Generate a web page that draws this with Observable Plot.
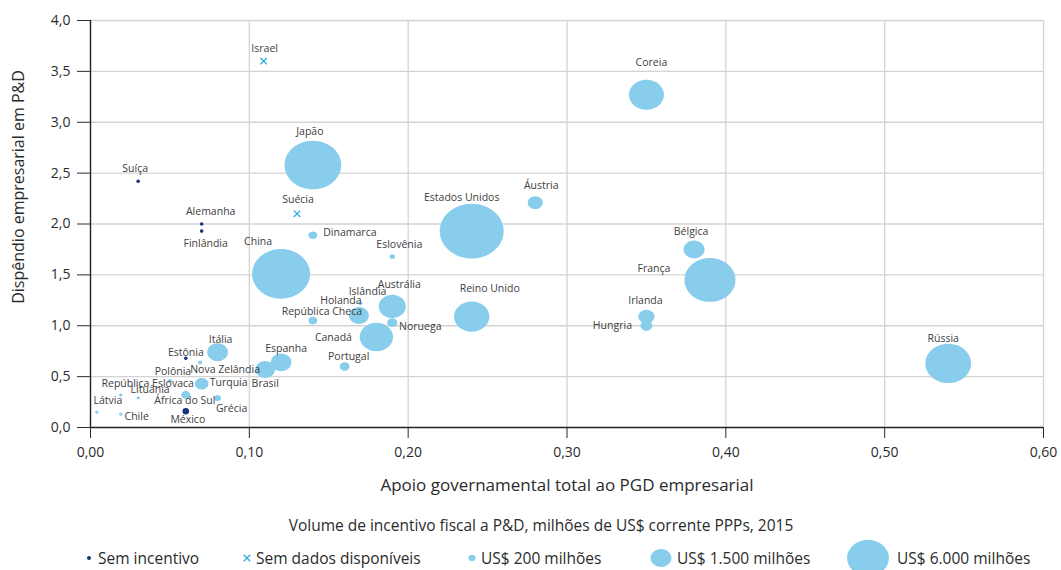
<!DOCTYPE html>
<html>
<head>
<meta charset="utf-8">
<script src="https://cdn.jsdelivr.net/npm/d3@7"></script>
<script src="https://cdn.jsdelivr.net/npm/@observablehq/plot@0.6"></script>
<style>
  body { margin: 0; background: #fff; font-family: "Open Sans", sans-serif; }
  #chart { width: 1061px; height: 570px; overflow: hidden; }
  #chart svg { display: block; }
</style>
</head>
<body>
<div id="chart"></div>
<script>
// ---------------- DATA ----------------
const countries = ["Israel","Coreia","Japão","Suíça","Áustria","Estados Unidos","Alemanha","Suécia","Finlândia","Dinamarca",
  "Bélgica","China","Eslovênia","França","Reino Unido","Austrália","Islândia","Holanda","República Checa","Irlanda",
  "Noruega","Hungria","Canadá","Rússia","Itália","Espanha","Estônia","Portugal","Nova Zelândia","Polônia",
  "Brasil","República Eslovaca","Turquia","Lituânia","África do Sul","Látvia","Grécia","Chile","México"];
// Apoio governamental total ao PGD empresarial (x)
const apoio = [0.109,0.350,0.140,0.030,0.280,0.240,0.070,0.130,0.070,0.140,
  0.380,0.120,0.190,0.390,0.240,0.190,0.170,0.169,0.140,0.350,
  0.190,0.350,0.180,0.540,0.080,0.120,0.060,0.160,0.069,0.050,
  0.110,0.019,0.070,0.030,0.060,0.004,0.080,0.019,0.060];
// Dispêndio empresarial em P&D (y)
const dispendio = [3.60,3.27,2.58,2.42,2.21,1.93,2.00,2.10,1.93,1.89,
  1.75,1.51,1.68,1.45,1.09,1.19,1.22,1.10,1.05,1.09,
  1.03,1.00,0.89,0.63,0.74,0.64,0.68,0.60,0.64,0.46,
  0.57,0.32,0.43,0.29,0.32,0.15,0.29,0.13,0.16];
// Volume de incentivo fiscal a P&D, milhões de US$ PPP (null = sem incentivo / sem dados)
const incentivo = [null,4200,11000,null,780,14000,null,null,null,270,
  1500,11500,110,8900,4300,2500,60,1350,270,890,
  350,480,3800,7150,1470,1430,null,330,60,60,
  1320,40,630,40,280,40,175,40,null];
// situação: "bolha" = com incentivo, "sem" = sem incentivo, "nd" = sem dados disponíveis
const situacao = ["nd","bolha","bolha","sem","bolha","bolha","sem","nd","sem","bolha",
  "bolha","bolha","bolha","bolha","bolha","bolha","bolha","bolha","bolha","bolha",
  "bolha","bolha","bolha","bolha","bolha","bolha","sem","bolha","bolha","bolha",
  "bolha","bolha","bolha","bolha","bolha","bolha","bolha","bolha","sem"];
const xTicks = [0, 0.1, 0.2, 0.3, 0.4, 0.5, 0.6];
const yTicks = [0, 0.5, 1, 1.5, 2, 2.5, 3, 3.5, 4];
const legendSizes = [200, 1500, 6000];
const legendLabels = ["Sem incentivo", "Sem dados disponíveis", "US$ 200 milhões", "US$ 1.500 milhões", "US$ 6.000 milhões"];

// label placement (pixel nudges relative to the point) — layout only
const labelNudge = {
  "Israel":[1,-13],"Coreia":[5,-32],"Japão":[-3,-33],"Suíça":[-3,-13],"Áustria":[6,-17],
  "Estados Unidos":[-10,-33],"Alemanha":[9,-12],"Suécia":[1,-14],"Finlândia":[4,13],"Dinamarca":[37,-3],
  "Bélgica":[-3,-18],"China":[-23,-32],"Eslovênia":[7,-12],"França":[-56,-11],"Reino Unido":[18,-28],
  "Austrália":[7,-22],"Islândia":[7,-12],"Holanda":[-18,-15],"República Checa":[9,-9],"Irlanda":[-1,-16],
  "Noruega":[28,4],"Hungria":[-34,0],"Canadá":[-43,1],"Rússia":[-5,-25],"Itália":[3,-13],
  "Espanha":[5,-14],"Estônia":[0,-6],"Portugal":[4,-10],"Nova Zelândia":[25,7],"Polônia":[3,-9],
  "Brasil":[0,14],"República Eslovaca":[27,-11],"Turquia":[27,-1],"Lituânia":[12,-8],"África do Sul":[-1,6],
  "Látvia":[11,-12],"Grécia":[14,11],"Chile":[16,2],"México":[2,8]
};

const rows = countries.map((c, i) => ({pais: c, x: apoio[i], y: dispendio[i], v: incentivo[i], s: situacao[i]}));

// ---------------- STYLE ----------------
const bubbleColor = "#88cdec";
const navy = "#17357a";
const crossColor = "#29abe2";
const gridColor = "#d3d3d3";

// ellipse symbol (slightly wider than tall, as in the reference)
const ellipse = {
  draw(ctx, size) {
    const r = Math.sqrt(size / Math.PI);
    const rx = r * 1.08, ry = r / 1.08, k = 0.5523;
    ctx.moveTo(rx, 0);
    ctx.bezierCurveTo(rx, ry * k, rx * k, ry, 0, ry);
    ctx.bezierCurveTo(-rx * k, ry, -rx, ry * k, -rx, 0);
    ctx.bezierCurveTo(-rx, -ry * k, -rx * k, -ry, 0, -ry);
    ctx.bezierCurveTo(rx * k, -ry, rx, -ry * k, rx, 0);
    ctx.closePath();
  }
};

const rDomain = [0, 6000], rRange = [0, 19.4];
const fmtX = d => d3.format(".2f")(d).replace(".", ",");
const fmtY = d => d3.format(".1f")(d).replace(".", ",");

const bubbles = rows.filter(d => d.s === "bolha").sort((a, b) => b.v - a.v);
const semIncentivo = rows.filter(d => d.s === "sem");

const plot = Plot.plot({
  width: 1061,
  height: 500,
  marginLeft: 90,
  marginRight: 18,
  marginTop: 20,
  marginBottom: 73,
  style: {fontFamily: "Open Sans, sans-serif", fontSize: "14px", color: "#2b2b2b", background: "white", overflow: "visible"},
  x: {domain: [0, 0.6], ticks: xTicks, tickFormat: fmtX, tickSize: 11, tickPadding: 9, label: null},
  y: {domain: [0, 4], ticks: yTicks, tickFormat: fmtY, tickSize: 13, tickPadding: 7, label: null},
  r: {type: "sqrt", domain: rDomain, range: rRange},
  marks: [
    Plot.ruleX(xTicks.filter(d => d > 0), {stroke: gridColor, strokeWidth: 1.3}),
    Plot.ruleY(yTicks.filter(d => d > 0), {stroke: gridColor, strokeWidth: 1.3}),
    Plot.ruleX([0], {stroke: "#222", strokeWidth: 1.4}),
    Plot.ruleY([0], {stroke: "#222", strokeWidth: 1.4}),
    Plot.dot(bubbles, {x: "x", y: "y", r: "v", symbol: ellipse, fill: bubbleColor, stroke: "none"}),
    Plot.dot(semIncentivo.filter(d => d.pais !== "México"), {x: "x", y: "y", r: 1.8, fill: navy, stroke: "none"}),
    Plot.dot(semIncentivo.filter(d => d.pais === "México"), {x: "x", y: "y", r: 3.3, fill: navy, stroke: "none"}),
    Plot.dot(rows.filter(d => d.s === "nd"), {x: "x", y: "y", symbol: "times", r: 3, stroke: crossColor, strokeWidth: 1.3, fill: "none"}),
    ...rows.map(d => Plot.text([d], {
      x: "x", y: "y", text: "pais",
      dx: labelNudge[d.pais][0], dy: labelNudge[d.pais][1],
      fontSize: 10.5, fill: "#404040", textAnchor: "middle", lineAnchor: "middle"
    })),
    Plot.text(["Dispêndio empresarial em P&D"], {text: d => d, frameAnchor: "left", dx: -72, dy: -37, rotate: -90,
      textAnchor: "middle", fontSize: 16, fill: "#2b2b2b"}),
    Plot.text(["Apoio governamental total ao PGD empresarial"], {text: d => d, frameAnchor: "bottom", dy: 63,
      textAnchor: "middle", fontSize: 17, fill: "#2b2b2b"})
  ]
});
document.getElementById("chart").appendChild(plot);

// ---------------- LEGEND ----------------
const rScale = d3.scaleSqrt().domain(rDomain).range(rRange);
const leg = d3.select("#chart").append("svg")
  .attr("width", 1061).attr("height", 70)
  .style("font-family", "Open Sans, sans-serif");
leg.append("text")
  .attr("x", 541).attr("y", 25).attr("text-anchor", "middle").attr("dominant-baseline", "central")
  .attr("font-size", 15.5).attr("fill", "#2b2b2b")
  .text("Volume de incentivo fiscal a P&D, milhões de US$ corrente PPPs, 2015");

const ly = 58;
// sem incentivo
leg.append("circle").attr("cx", 89).attr("cy", ly).attr("r", 2).attr("fill", navy);
// sem dados
const tx = d3.path(); d3.symbolTimes.draw(tx, 9 * Math.PI);
leg.append("path").attr("d", tx.toString()).attr("transform", `translate(247,${ly})`)
  .attr("stroke", crossColor).attr("stroke-width", 1.3).attr("fill", "none");
// bubbles
const bubbleX = [472, 661, 868];
legendSizes.forEach((v, i) => {
  const p = d3.path(); const r = rScale(v); ellipse.draw(p, r * r * Math.PI);
  leg.append("path").attr("d", p.toString()).attr("transform", `translate(${bubbleX[i]},${ly})`).attr("fill", bubbleColor);
});
const textX = [98, 256, 481, 677, 897];
legendLabels.forEach((t, i) => {
  leg.append("text").attr("x", textX[i]).attr("y", ly).attr("dominant-baseline", "central")
    .attr("font-size", 15.5).attr("fill", "#2b2b2b").text(t);
});
</script>
</body>
</html>
